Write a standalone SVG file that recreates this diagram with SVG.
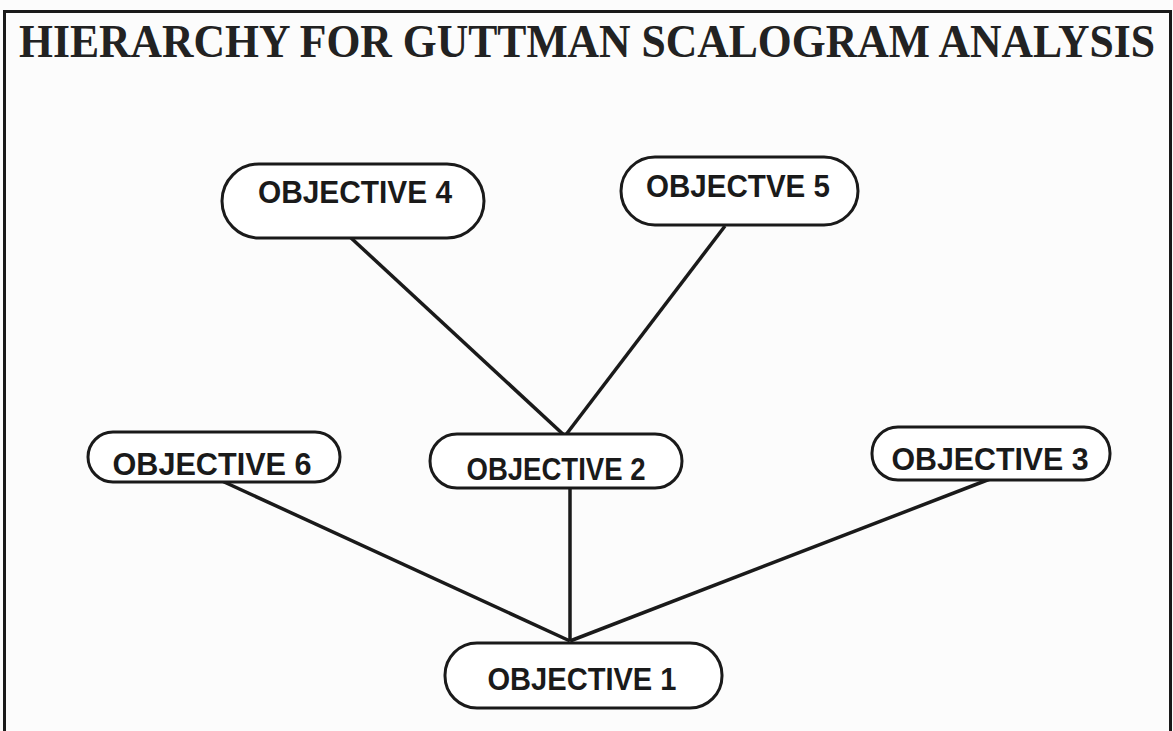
<svg xmlns="http://www.w3.org/2000/svg" width="1173" height="731" viewBox="0 0 1173 731">
<style>
.node{fill:#fff;stroke:#1a1a1a;stroke-width:3}
.lbl{font-family:"Liberation Sans",Arial,sans-serif;font-size:31px;font-weight:bold;fill:#1a1a1a;text-anchor:middle}
.edge{stroke:#1a1a1a;stroke-width:3.5;fill:none}
</style>
<rect x="0" y="0" width="1173" height="731" fill="#fcfcfc"/>
<rect x="4.5" y="11.5" width="1166" height="730" fill="none" stroke="#1a1a1a" stroke-width="3"/>
<text transform="translate(587,57) scale(1,1.1)" x="0" y="0" font-family="'Liberation Serif','Times New Roman',serif" font-weight="bold" font-size="42" fill="#222" text-anchor="middle" textLength="1136" lengthAdjust="spacingAndGlyphs">HIERARCHY FOR GUTTMAN SCALOGRAM ANALYSIS</text>
<g id="connectors">
<line class="edge" x1="350" y1="237" x2="565" y2="436"/>
<line class="edge" x1="725" y1="226" x2="565" y2="436"/>
<line class="edge" x1="222" y1="481" x2="570" y2="641"/>
<line class="edge" x1="570" y1="488" x2="570" y2="641" stroke-width="2"/>
<line class="edge" x1="990" y1="479" x2="570" y2="641"/>
</g>
<g id="obj4"><rect class="node" x="222" y="164" width="262" height="74" rx="37"/><text class="lbl" x="355" y="203" textLength="194" lengthAdjust="spacingAndGlyphs">OBJECTIVE 4</text></g>
<g id="obj5"><rect class="node" x="621" y="157" width="237" height="68" rx="34"/><text class="lbl" x="738" y="197" textLength="184" lengthAdjust="spacingAndGlyphs">OBJECTVE 5</text></g>
<g id="obj6"><rect class="node" x="88" y="432" width="252" height="50" rx="25"/><text class="lbl" x="212" y="475" textLength="199" lengthAdjust="spacingAndGlyphs">OBJECTIVE 6</text></g>
<g id="obj2"><rect class="node" x="430" y="434" width="252" height="54" rx="27"/><text class="lbl" x="556" y="480" textLength="179" lengthAdjust="spacingAndGlyphs">OBJECTIVE 2</text></g>
<g id="obj3"><rect class="node" x="872" y="427" width="238" height="53" rx="26"/><text class="lbl" x="990" y="470" textLength="197" lengthAdjust="spacingAndGlyphs">OBJECTIVE 3</text></g>
<g id="obj1"><rect class="node" x="445" y="643" width="277" height="65" rx="32"/><text class="lbl" x="582" y="690" textLength="189" lengthAdjust="spacingAndGlyphs">OBJECTIVE 1</text></g>
</svg>
